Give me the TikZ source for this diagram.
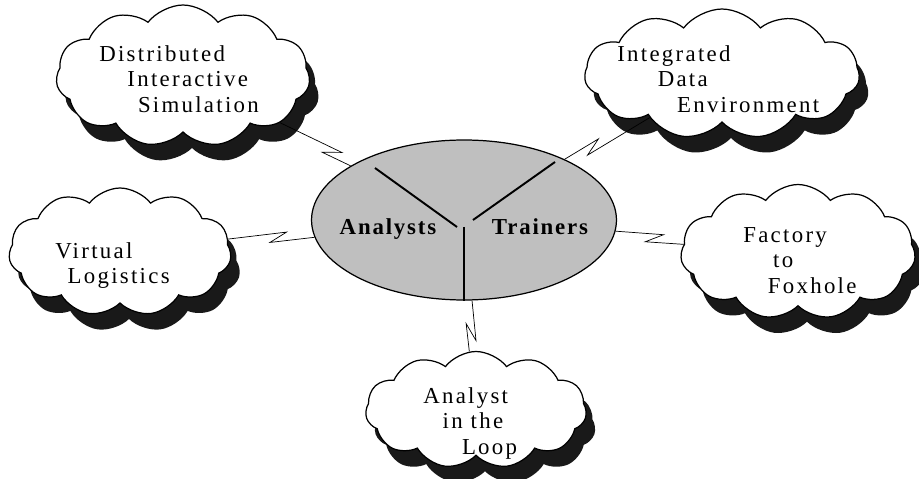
\documentclass[tikz,border=0pt]{standalone}
\usepackage{fontspec}
\usetikzlibrary{shapes.symbols,shapes.geometric,shadows,calc}
\newfontfamily\cloudfont[LetterSpace=10]{Liberation Serif}
\newfontfamily\hubfont[LetterSpace=8]{Liberation Serif}

\tikzset{
  cloudbox/.style={cloud, cloud puffs=11, cloud puff arc=105, cloud ignores aspect,
    draw, line width=0.7pt, fill=white, inner sep=0pt,
    drop shadow={shadow xshift=0.18cm, shadow yshift=-0.32cm, fill=black!90, opacity=1}},
  cloudtext/.style={anchor=north west, inner sep=0pt, align=left,
    font=\cloudfont\fontsize{13}{14.5}\selectfont},
  hubtext/.style={anchor=base, inner sep=0pt,
    font=\hubfont\bfseries\fontsize{13}{15}\selectfont},
  bolt/.style={line width=1pt,
    to path={-- ($(\tikztostart)!#1!(\tikztotarget)!5pt!(\tikztotarget)!2.5pt!90:(\tikztotarget)$)
             -- ($(\tikztostart)!#1!(\tikztotarget)!-5pt!(\tikztotarget)!-2.5pt!90:(\tikztotarget)$)
             -- (\tikztotarget)}},
  bolt/.default=0.5
}

\begin{document}
\begin{tikzpicture}[x=0.02cm, y=-0.02cm]
        \useasboundingbox (0,0) rectangle (919,479);

        % Clouds
        \node (dis) [cloudbox, minimum width=5.08cm, minimum height=2.84cm] at (183,76) {};
        \node (ide) [cloudbox, minimum width=5.5cm, minimum height=2.6cm] at (722,74) {};
        \node (vl)  [cloudbox, minimum width=4.45cm, minimum height=2.56cm] at (120,252) {};
        \node (f2f) [cloudbox, minimum width=4.7cm, minimum height=2.7cm] at (798,252) {};
        \node (ail) [cloudbox, minimum width=4.42cm, minimum height=2.34cm] at (476,410) {};

        % Hub
        \node (hub) [ellipse, draw, line width=0.7pt, fill=black!25,
          minimum width=6.1cm, minimum height=3.2cm] at (464,220) {};
        \draw[line width=1.1pt] (375,168) -- (457,227);
        \draw[line width=1.1pt] (555,162) -- (473,220);
        \draw[line width=0.6pt] (464,227) -- (hub.south);
        \node (analysts) [hubtext] at (388,235) {Analysts};
        \node (trainers) [hubtext] at (540,235) {Trainers};

        % Texts
        \node (dis text) [cloudtext] at (99,45)
          {Distributed\\\hspace*{16pt}Interactive\\\hspace*{22pt}Simulation};
        \node (ide text) [cloudtext] at (617,45)
          {Integrated\\\hspace*{23pt}Data\\\hspace*{34pt}Environment};
        \node (vl text) [cloudtext] at (55,242)
          {Virtual\\\hspace*{7pt}Logistics};
        \node (f2f text) [cloudtext] at (743,227)
          {Factory\\\hspace*{17pt}to\\\hspace*{14pt}Foxhole};
        \node (ail text) [cloudtext] at (423,387)
          {Analyst\\\hspace*{11pt}in the\\\hspace*{22pt}Loop};

        % Links
        \draw (dis) to[bolt=0.53] (hub);
        \draw (ide) to[bolt=0.5] (hub);
        \draw (vl) to[bolt=0.46] (hub);
        \draw (f2f) to[bolt=0.43] (hub);
        \draw (ail) to[bolt=0.41] (hub);
    \end{tikzpicture}
\end{document}
